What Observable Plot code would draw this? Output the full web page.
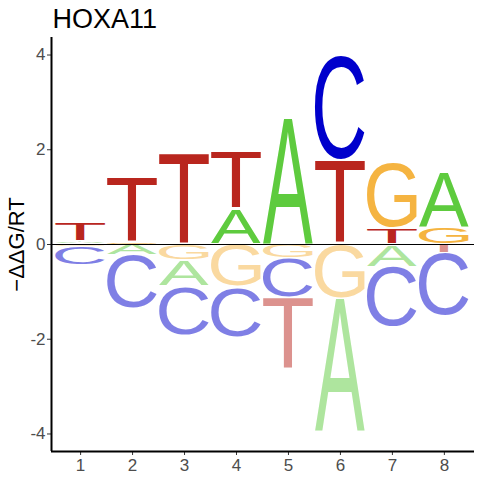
<!DOCTYPE html>
<html><head><meta charset="utf-8">
<script src="https://cdn.jsdelivr.net/npm/d3@7"></script>
<script src="https://cdn.jsdelivr.net/npm/@observablehq/plot@0.6"></script>
<style>body{margin:0;background:#fff}</style>
</head><body><div id="chart"></div>
<script>
const title = "HOXA11";
const yLabel = "\u2212\u0394\u0394G/RT";
const positions = [1, 2, 3, 4, 5, 6, 7, 8];
const letters = ["A", "C", "G", "T"];
const valA = [0.06, -0.23, -0.55, 0.74, 2.64, -2.82, -0.47, 1.17];
const valC = [-0.38, -1.14, -1.03, -1.07, -0.83, 2.20, -1.27, -1.34];
const valG = [-0.06, 0.03, -0.34, -0.90, -0.30, -1.14, 1.40, 0.35];
const valT = [0.39, 1.37, 1.93, 1.22, -1.50, 1.77, 0.34, -0.18];
const letterColors = ["#5ecb3e", "#0000cc", "#f5b441", "#b9261e"];
const yTicks = [-4, -2, 0, 2, 4];

const FONT = "Liberation Sans";
const xDomain = [0.44, 8.58];
const yDomain = [-4.37, 4.37];
const halfW = 0.48;
const gapPx = 0.7;

const series = {A: valA, C: valC, G: valG, T: valT};
const colorOf = Object.fromEntries(letters.map((l, i) => [l, letterColors[i]]));

// stack letters: positive upward (small first), negative downward (small first)
const rows = [];
positions.forEach((p, i) => {
  const vals = letters.map(l => ({letter: l, value: series[l][i]}));
  const pos = vals.filter(d => d.value > 0).sort((a, b) => a.value - b.value);
  const neg = vals.filter(d => d.value < 0).sort((a, b) => b.value - a.value);
  let acc = 0;
  for (const d of pos) { const y1 = acc; acc += d.value; rows.push({position: p, letter: d.letter, y1, y2: acc, negative: false}); }
  acc = 0;
  for (const d of neg) { const y1 = acc; acc += d.value; rows.push({position: p, letter: d.letter, y1, y2: acc, negative: true}); }
});

const ctx = document.createElement("canvas").getContext("2d");
ctx.font = `100px "${FONT}"`;
ctx.textAlign = "left";
ctx.textBaseline = "alphabetic";
const metrics = {};
for (const l of letters) {
  const m = ctx.measureText(l);
  metrics[l] = {l: m.actualBoundingBoxLeft, r: m.actualBoundingBoxRight, a: m.actualBoundingBoxAscent, d: m.actualBoundingBoxDescent};
}

const NS = "http://www.w3.org/2000/svg";
function logoMark(index, scales) {
  const g = document.createElementNS(NS, "g");
  for (const d of rows) {
    const x0 = scales.x(d.position - halfW), x1 = scales.x(d.position + halfW);
    let yTop = scales.y(Math.max(d.y1, d.y2)), yBot = scales.y(Math.min(d.y1, d.y2));
    if (yBot - yTop > 4 * gapPx) { yTop += gapPx; yBot -= gapPx; }
    const m = metrics[d.letter];
    const sx = (x1 - x0) / (m.l + m.r), sy = (yBot - yTop) / (m.a + m.d);
    const t = document.createElementNS(NS, "text");
    t.setAttribute("transform", `translate(${x0},${yTop}) scale(${sx},${sy}) translate(${m.l},${m.a})`);
    t.setAttribute("font-family", FONT);
    t.setAttribute("font-size", "100");
    t.setAttribute("text-anchor", "start");
    t.setAttribute("fill", colorOf[d.letter]);
    if (d.negative) t.setAttribute("fill-opacity", "0.5");
    t.textContent = d.letter;
    g.appendChild(t);
  }
  return g;
}

const fmt = d => d < 0 ? "-" + (-d) : String(d);

const chart = Plot.plot({
  width: 480,
  height: 480,
  marginTop: 37,
  marginBottom: 29,
  marginLeft: 51,
  marginRight: 6,
  style: {fontFamily: FONT, fontSize: "17px", background: "white"},
  x: {domain: xDomain},
  y: {domain: yDomain},
  marks: [
    logoMark,
    Plot.ruleY([0], {stroke: "black", strokeWidth: 1}),
    Plot.axisX({ticks: positions, tickSize: 4, tickPadding: 3, stroke: "#333", fill: "#4d4d4d", label: null, tickFormat: fmt}),
    Plot.axisY({ticks: yTicks, tickSize: 4, tickPadding: 2, stroke: "#333", fill: "#4d4d4d", label: null, tickFormat: fmt}),
    Plot.ruleX([xDomain[0]], {stroke: "black", strokeWidth: 2}),
    Plot.ruleY([yDomain[0]], {stroke: "black", strokeWidth: 2}),
    Plot.text([title], {text: d => d, frameAnchor: "top-left", textAnchor: "start", lineAnchor: "bottom", dy: -10, dx: 1, fontSize: 27, fill: "black"}),
    Plot.text([yLabel], {text: d => d, frameAnchor: "left", rotate: -90, dx: -35, fontSize: 22, fill: "black", textAnchor: "middle", lineAnchor: "middle"})
  ]
});
document.getElementById("chart").appendChild(chart);
</script>
</body></html>
